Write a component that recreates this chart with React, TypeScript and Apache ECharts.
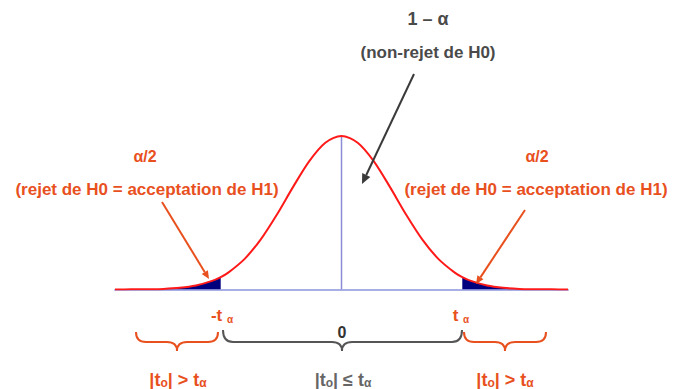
import React, { useEffect, useRef } from "react";
import * as echarts from "echarts";

// Curve (standardised t values, relative height)
const CURVE_X = [-4.2, -3.9, -3.6, -3.3, -3.0, -2.7, -2.4, -2.24, -2.1, -1.8, -1.5, -1.2, -0.9, -0.6, -0.3, 0, 0.3, 0.6, 0.9, 1.2, 1.5, 1.8, 2.1, 2.24, 2.4, 2.7, 3.0, 3.3, 3.6, 3.9, 4.2];
const CURVE_Y = [0.0, 0.001, 0.002, 0.004, 0.011, 0.026, 0.056, 0.081, 0.11, 0.198, 0.325, 0.487, 0.667, 0.835, 0.956, 1.0, 0.956, 0.835, 0.667, 0.487, 0.325, 0.198, 0.11, 0.081, 0.056, 0.026, 0.011, 0.004, 0.002, 0.001, 0.0];
const T_ALPHA = 2.24;
const X_RANGE = [-4.2, 4.2];

const ORANGE = "#e8501e";
const GRAY = "#4a4a4a";
const FONT = '"Liberation Sans", Arial, sans-serif';

function arrow(x1: number, y1: number, x2: number, y2: number, color: string, w: number, head: number) {
  const dx = x2 - x1;
  const dy = y2 - y1;
  const len = Math.sqrt(dx * dx + dy * dy);
  const ux = dx / len;
  const uy = dy / len;
  const bx = x2 - ux * head;
  const by = y2 - uy * head;
  const px = -uy * head * 0.45;
  const py = ux * head * 0.45;
  return [
    { type: "line", shape: { x1, y1, x2: bx, y2: by }, style: { stroke: color, lineWidth: w }, z: 10 },
    { type: "polygon", shape: { points: [[x2, y2], [bx + px, by + py], [bx - px, by - py]] }, style: { fill: color }, z: 10 },
  ];
}

function brace(x1: number, x2: number, xc: number, y0: number, ym: number, yt: number, color: string) {
  const r = 10;
  const st = { stroke: color, lineWidth: 2, fill: "none" };
  return [
    { type: "bezierCurve", shape: { x1: x1, y1: y0, cpx1: x1, cpy1: ym, x2: x1 + r, y2: ym }, style: st, z: 10 },
    { type: "line", shape: { x1: x1 + r, y1: ym, x2: xc - r, y2: ym }, style: st, z: 10 },
    { type: "bezierCurve", shape: { x1: xc - r, y1: ym, cpx1: xc, cpy1: ym, x2: xc, y2: yt }, style: st, z: 10 },
    { type: "bezierCurve", shape: { x1: xc + r, y1: ym, cpx1: xc, cpy1: ym, x2: xc, y2: yt }, style: st, z: 10 },
    { type: "line", shape: { x1: xc + r, y1: ym, x2: x2 - r, y2: ym }, style: st, z: 10 },
    { type: "bezierCurve", shape: { x1: x2 - r, y1: ym, cpx1: x2, cpy1: ym, x2: x2, y2: y0 }, style: st, z: 10 },
  ];
}

function txt(x: number, y: number, text: string, color: string, size: number, rich?: any) {
  return {
    type: "text",
    x,
    y,
    z: 20,
    style: {
      text,
      fill: color,
      font: `bold ${size}px ${FONT}`,
      textAlign: "center",
      textVerticalAlign: "middle",
      rich,
    },
  };
}

function subRich(color: string, main: number, sub: number) {
  return {
    a: { fontSize: main, fontWeight: "bold", fontFamily: FONT, color, lineHeight: main + 5, verticalAlign: "bottom" },
    s: { fontSize: sub, fontWeight: "bold", fontFamily: FONT, color, lineHeight: sub, verticalAlign: "bottom" },
  };
}

export default function App() {
  const ref = useRef<HTMLDivElement>(null);
  useEffect(() => {
    if (!ref.current) return;
    const chart = echarts.init(ref.current, null, { renderer: "svg" });
    const pts = CURVE_X.map((x, i) => [x, CURVE_Y[i]]);
    const leftTail = pts.filter((p) => p[0] <= -T_ALPHA);
    const rightTail = pts.filter((p) => p[0] >= T_ALPHA);

    const graphics: any[] = [
      txt(428, 19, "1 – α", GRAY, 18),
      txt(428, 52, "(non-rejet de H0)", GRAY, 17),
      ...arrow(414, 74, 362, 184, "#3a3a3a", 2, 10),
      txt(145, 156, "α/2", ORANGE, 16),
      txt(147, 189, "(rejet de H0 = acceptation de H1)", ORANGE, 17),
      ...arrow(162, 202, 209, 279, ORANGE, 2, 8),
      txt(537, 156, "α/2", ORANGE, 16),
      txt(536, 189, "(rejet de H0 = acceptation de H1)", ORANGE, 17),
      ...arrow(525, 210, 476, 284, ORANGE, 2, 8),
      txt(222, 313, "{a|-t }{s|α}", ORANGE, 17, subRich(ORANGE, 17, 10)),
      txt(461, 313, "{a|t }{s|α}", ORANGE, 17, subRich(ORANGE, 17, 10)),
      txt(342, 332, "0", "#333", 16),
      ...brace(136, 218, 177, 332, 342, 351, ORANGE),
      ...brace(223, 462, 342, 330, 342, 351, "#555"),
      ...brace(464, 546, 505, 332, 342, 351, ORANGE),
      txt(178, 377, "{a||t}{s|o}{a|| > t}{s|α}", ORANGE, 18, subRich(ORANGE, 18, 12)),
      txt(343, 377, "{a||t}{s|o}{a|| ≤ t}{s|α}", "#666", 18, subRich("#666", 18, 12)),
      txt(505, 377, "{a||t}{s|o}{a|| > t}{s|α}", ORANGE, 18, subRich(ORANGE, 18, 12)),
    ];

    chart.setOption({
      animation: false,
      backgroundColor: "#ffffff",
      grid: { left: 115, right: 105, top: 136, bottom: 99.5, containLabel: false },
      xAxis: {
        type: "value",
        min: X_RANGE[0],
        max: X_RANGE[1],
        axisLine: { show: true, lineStyle: { color: "#a8aee6", width: 2 } },
        axisTick: { show: false },
        axisLabel: { show: false },
        splitLine: { show: false },
      },
      yAxis: {
        type: "value",
        min: 0,
        max: 1,
        show: false,
        splitLine: { show: false },
      },
      series: [
        {
          type: "line",
          data: [[0, 0], [0, 1]],
          symbol: "none",
          lineStyle: { color: "#8c8cd8", width: 1.5 },
          z: 1,
        },
        {
          type: "line",
          data: leftTail,
          smooth: 0.3,
          symbol: "none",
          lineStyle: { width: 0 },
          areaStyle: { color: "#00007f", opacity: 1 },
          z: 2,
        },
        {
          type: "line",
          data: rightTail,
          smooth: 0.3,
          symbol: "none",
          lineStyle: { width: 0 },
          areaStyle: { color: "#00007f", opacity: 1 },
          z: 2,
        },
        {
          type: "line",
          data: pts,
          smooth: 0.3,
          symbol: "none",
          lineStyle: { color: "#ff1a1a", width: 2 },
          z: 3,
        },
      ],
      graphic: graphics,
    });
    return () => chart.dispose();
  }, []);
  return <div ref={ref} style={{ position: "absolute", left: 0, top: 0, width: 673, height: 389 }} />;
}
